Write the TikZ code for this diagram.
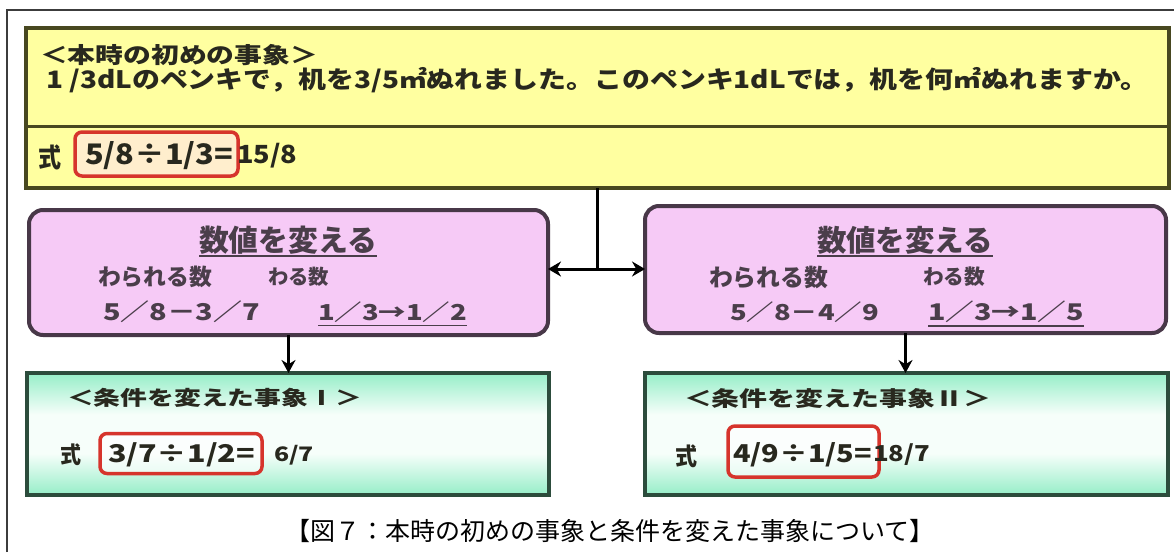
\documentclass[tikz,border=0pt]{standalone}
\usepackage{fontspec}
\setmainfont{Noto Sans CJK JP}
\usetikzlibrary{arrows.meta}
\definecolor{yfill}{RGB}{255,255,160}
\definecolor{ydraw}{RGB}{72,72,32}
\definecolor{pfill}{RGB}{246,202,246}
\definecolor{pdraw}{RGB}{72,56,72}
\definecolor{gmint}{RGB}{150,238,200}
\definecolor{gwhite}{RGB}{246,254,250}
\definecolor{gdraw}{RGB}{44,76,60}
\definecolor{rdraw}{RGB}{214,52,44}
\definecolor{rfillY}{RGB}{255,238,205}
\definecolor{tcol}{RGB}{40,40,30}
\definecolor{ptcol}{RGB}{74,62,74}
\definecolor{fcol}{RGB}{60,60,60}
\pgfdeclareverticalshading{gshade}{100bp}{color(0bp)=(gmint); color(25bp)=(gmint); color(42bp)=(gwhite); color(58bp)=(gwhite); color(75bp)=(gmint); color(100bp)=(gmint)}
\newcommand{\tx}[3][1]{\scalebox{1}[#1]{\resizebox{#2pt}{!}{\bfseries #3}}}
\tikzset{
  ybox/.style={draw=ydraw, fill=yfill, line width=4pt, inner sep=0pt, outer sep=0pt},
  pbox/.style={draw=pdraw, fill=pfill, line width=4pt, rounded corners=14pt, inner sep=0pt, outer sep=0pt},
  gbox/.style={draw=gdraw, shading=gshade, line width=4pt, inner sep=0pt, outer sep=0pt},
  rbox/.style={draw=rdraw, line width=3.5pt, rounded corners=7pt, inner sep=0pt, outer sep=0pt},
  txt/.style={inner sep=0pt, outer sep=0pt, anchor=west, text=tcol},
  ptxt/.style={inner sep=0pt, outer sep=0pt, anchor=west, text=ptcol},
  conn/.style={draw=black, line width=3pt},
  arr/.style={conn, -{Stealth[length=13pt,width=14pt]}},
  darr/.style={conn, {Stealth[length=13pt,width=15pt]}-{Stealth[length=13pt,width=15pt]}},
  ul/.style={draw=ptcol, line width=1.5pt},
  frame/.style={draw=fcol, line width=1.3pt}
}
\begin{document}
\begin{tikzpicture}[x=1pt,y=-1pt]
\useasboundingbox (0,0) rectangle (1174,552);
\draw[frame] (7,552) -- (7,10) -- (1174,10);

% boxes
\node[ybox, minimum width=1143pt, minimum height=160pt] (top) at (597.5,108) {};
\coordinate (dv) at (0,126);
\draw[draw=ydraw, line width=3pt] (top.west |- dv) -- (top.east |- dv);
\node[pbox, minimum width=519pt, minimum height=125pt] (lp) at (288.5,272.5) {};
\node[pbox, minimum width=521pt, minimum height=127pt] (rp) at (905.5,269.5) {};
\node[gbox, minimum width=522pt, minimum height=122pt] (lg) at (288,434) {};
\node[gbox, minimum width=523pt, minimum height=122pt] (rg) at (906.5,434) {};

% red boxes
\node[rbox, fill=rfillY, minimum width=163pt, minimum height=44pt] (r0) at (156.5,154) {};
\node[rbox, fill=white, fill opacity=0.6, minimum width=162pt, minimum height=40pt] (r1) at (181,453.5) {};
\node[rbox, fill=white, fill opacity=0.6, minimum width=151pt, minimum height=51pt] (r2) at (803.5,451.5) {};

% connectors
\coordinate (j) at (597,269);
\draw[conn] (top.south -| j) -- (j);
\draw[darr] (lp.east |- j) -- (rp.west |- j);
\draw[arr] (lp.south) -- (lp.south |- lg.north);
\draw[arr] (rp.south) -- (rp.south |- rg.north);

% yellow texts
\node[txt] (t1) at (40,55) {\tx[0.8]{278}{＜本時の初めの事象＞}};
\node[txt] (t2) at (46,80) {\tx[0.86]{1102}{1 /3dLのペンキで，机を3/5㎡ぬれました。このペンキ1dLでは，机を何㎡ぬれますか。}};
\node[txt] (s0) at (38,157) {\tx[1.15]{23}{式}};
\node[txt] (e0) at (85,156) {\tx[0.92]{148}{5/8÷1/3=}};
\node[txt] (a0) at (237,156) {\tx[0.92]{60}{15/8}};

% pink left
\node[ptxt] (lt) at (199,240) {\tx{178}{数値を変える}};
\draw[ul] ([yshift=-2pt]lt.south west) -- ([yshift=-2pt]lt.south east);
\node[ptxt] (la) at (98,277) {\tx{114}{わられる数}};
\node[ptxt] (lb) at (268,277) {\tx{61}{わる数}};
\node[ptxt] (lc) at (103,312) {\tx[0.8]{157}{5／8－3／7}};
\node[ptxt] (ld) at (318,312) {\tx[0.8]{149}{1／3→1／2}};
\draw[ul] ([yshift=-3pt]ld.south west) -- ([yshift=-3pt]ld.south east);

% pink right
\node[ptxt] (rt) at (817,240) {\tx{176}{数値を変える}};
\draw[ul] ([yshift=-2pt]rt.south west) -- ([yshift=-2pt]rt.south east);
\node[ptxt] (ra) at (709,277) {\tx{119}{わられる数}};
\node[ptxt] (rb) at (923,277) {\tx{62}{わる数}};
\node[ptxt] (rc) at (730,312) {\tx[0.8]{149}{5／8－4／9}};
\node[ptxt] (rd) at (928,312) {\tx[0.8]{156}{1／3→1／5}};
\draw[ul] ([yshift=-3pt]rd.south west) -- ([yshift=-3pt]rd.south east);

% green left
\node[txt] (g1) at (67,398) {\tx[0.75]{295}{＜条件を変えた事象Ⅰ＞}};
\node[txt] (s1) at (60,455) {\tx[1.1]{21}{式}};
\node[txt] (e1) at (108,455) {\tx[0.8]{147}{3/7÷1/2=}};
\node[txt] (a1) at (274,455) {\tx[0.8]{40}{6/7}};

% green right
\node[txt] (g2) at (684,399) {\tx[0.75]{307}{＜条件を変えた事象Ⅱ＞}};
\node[txt] (s2) at (675,456) {\tx[1.1]{22}{式}};
\node[txt] (e2) at (733,455) {\tx[0.85]{139}{4/9÷1/5=}};
\node[txt] (a2) at (873,455) {\tx[0.85]{57}{18/7}};

% caption
\node[inner sep=0pt, text=black, font=\fontsize{25pt}{30pt}\selectfont] (cap) at (610,531) {【図７：本時の初めの事象と条件を変えた事象について】};
\end{tikzpicture}
\end{document}
